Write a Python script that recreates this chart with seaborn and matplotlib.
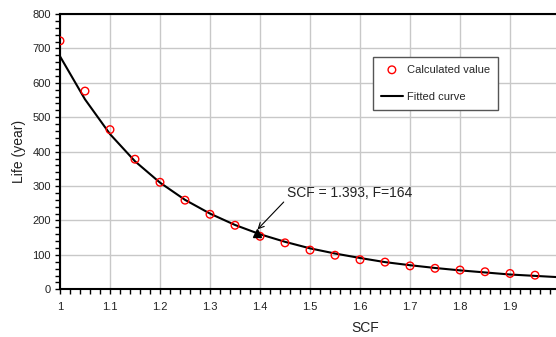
import numpy as np
import pandas as pd
import matplotlib
matplotlib.use("Agg")
import matplotlib.pyplot as plt
from matplotlib.ticker import MultipleLocator
import seaborn as sns

# Calculated values
scf_points = [1.00, 1.05, 1.10, 1.15, 1.20, 1.25, 1.30, 1.35, 1.40, 1.45,
              1.50, 1.55, 1.60, 1.65, 1.70, 1.75, 1.80, 1.85, 1.90, 1.95]
life_points = [722, 576, 464, 378, 311, 259, 218, 186, 154, 135,
               114, 99, 86, 79, 68, 61, 56, 51, 46, 41]

# Fitted curve
scf_curve = [1.00, 1.05, 1.10, 1.15, 1.20, 1.25, 1.30, 1.35, 1.40, 1.45, 1.50,
             1.55, 1.60, 1.65, 1.70, 1.75, 1.80, 1.85, 1.90, 1.95, 2.00]
life_curve = [677, 552, 451, 372, 310, 260, 220, 187, 160, 138, 119,
              104, 91, 79, 70, 62, 55, 49, 43, 39, 35]

# Annotated point
ann_scf = [1.393]
ann_life = [164]
ann_text = "SCF = 1.393, F=164"

sns.set_theme(style="ticks")
plt.rcParams["font.family"] = ["Liberation Sans", "DejaVu Sans"]

fig = plt.figure(figsize=(5.56, 3.37), dpi=100)
ax = fig.add_axes([60/556, (337-289.3)/337, 500/556, 275.3/337])

df_pts = pd.DataFrame({"SCF": scf_points, "Life": life_points})
df_curve = pd.DataFrame({"SCF": scf_curve, "Life": life_curve})

sns.scatterplot(data=df_pts, x="SCF", y="Life", ax=ax, marker="o", s=30,
                facecolor="none", edgecolor="red", linewidth=1.0,
                label="Calculated value", zorder=4)
sns.lineplot(data=df_curve, x="SCF", y="Life", ax=ax, color="black",
             linewidth=1.5, label="Fitted curve", zorder=3)

ax.plot(ann_scf, ann_life, marker="^", color="black", markersize=6,
        linestyle="none", zorder=5)
ax.annotate(ann_text, xy=(ann_scf[0] + 0.002, ann_life[0] + 10),
            xytext=(287, 337 - 193), textcoords="figure pixels",
            fontsize=10, color="#222222", va="center", ha="left",
            arrowprops=dict(arrowstyle="->", color="black", lw=0.8,
                            shrinkA=0, shrinkB=0,
                            relpos=(0, 0.1)))

ax.set_xlim(1, 2)
ax.set_ylim(0, 800)
ax.xaxis.set_minor_locator(MultipleLocator(0.02))
ax.yaxis.set_major_locator(MultipleLocator(100))
ax.yaxis.set_minor_locator(MultipleLocator(20))
ax.set_xticks([1, 1.1, 1.2, 1.3, 1.4, 1.5, 1.6, 1.7, 1.8, 1.9])
ax.set_xticklabels(["1", "1.1", "1.2", "1.3", "1.4", "1.5", "1.6", "1.7", "1.8", "1.9"])
ax.grid(True, which="major", color="#c8c8c8", linewidth=1.0)
ax.set_axisbelow(True)

ax.tick_params(axis="both", which="both", direction="out", length=3.5,
               width=1.0, color="black", labelsize=8, labelcolor="#222222", pad=3)
ax.tick_params(axis="x", which="major", pad=6)

for side in ["left", "bottom", "top"]:
    ax.spines[side].set_visible(True)
    ax.spines[side].set_color("black")
    ax.spines[side].set_linewidth(1.5)
ax.spines["right"].set_visible(False)

ax.set_xlabel("SCF", fontsize=10, color="#222222", labelpad=5)
ax.xaxis.set_label_coords((365 - 60) / 500, -(328 - 289.3) / 275.3)
ax.xaxis.label.set_va("center")
ax.set_ylabel("Life (year)", fontsize=10, color="#222222", labelpad=5)

leg = ax.legend(loc="upper left", bbox_to_anchor=(0.626, 0.844),
                fontsize=8, frameon=True, fancybox=False, framealpha=1,
                edgecolor="#555555", labelspacing=1.55, handlelength=2.0,
                borderpad=0.7, handletextpad=0.4, borderaxespad=0)
leg.get_frame().set_linewidth(1.0)

fig.savefig("out.png", dpi=100)
